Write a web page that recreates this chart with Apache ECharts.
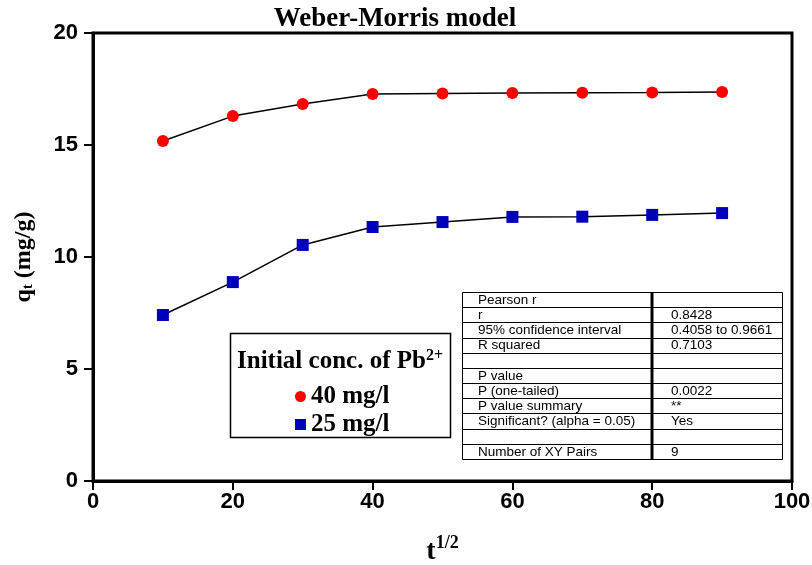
<!DOCTYPE html>
<html>
<head>
<meta charset="utf-8">
<script src="https://cdn.jsdelivr.net/npm/echarts@6/dist/echarts.min.js"></script>
<style>
  html, body { margin: 0; padding: 0; background: #fff; }
  #chart { width: 812px; height: 565px; }
</style>
</head>
<body>
<div id="chart"></div>
<script>
// sqrt(time) values on the x axis
const tHalf = [10, 20, 30, 40, 50, 60, 70, 80, 90];
// adsorbed amount q_t (mg/g) for the two initial concentrations
const q40 = [15.18, 16.29, 16.83, 17.28, 17.30, 17.32, 17.33, 17.34, 17.37];
const q25 = [7.41, 8.88, 10.54, 11.34, 11.56, 11.79, 11.80, 11.88, 11.96];
const seriesNames = ['40 mg/l', '25 mg/l'];
const xTicks = [0, 20, 40, 60, 80, 100];
const yTicks = [0, 5, 10, 15, 20];

// correlation summary table
const statLabels = ['Pearson r', 'r', '95% confidence interval', 'R squared', '',
  'P value', 'P (one-tailed)', 'P value summary', 'Significant? (alpha = 0.05)', '', 'Number of XY Pairs'];
const statValues = ['', '0.8428', '0.4058 to 0.9661', '0.7103', '',
  '', '0.0022', '**', 'Yes', '', '9'];

const chart = echarts.init(document.getElementById('chart'));

const serif = '"Liberation Serif", "Times New Roman", serif';
const sans = '"Liberation Sans", Arial, sans-serif';

// table geometry
const tbl = { x: 462, y: 292, w: 320, h: 167, split: 652 };
const rowH = tbl.h / statLabels.length;
const tableEls = [];
tableEls.push({
  type: 'rect', shape: { x: tbl.x + 0.5, y: tbl.y + 0.5, width: tbl.w, height: tbl.h },
  style: { fill: '#fff', stroke: '#000', lineWidth: 1 }, z: 10
});
for (let i = 1; i < statLabels.length; i++) {
  const yy = Math.round(tbl.y + i * rowH) + 0.5;
  tableEls.push({
    type: 'line', shape: { x1: tbl.x, y1: yy, x2: tbl.x + tbl.w, y2: yy },
    style: { stroke: '#000', lineWidth: 1 }, z: 11
  });
}
tableEls.push({
  type: 'line', shape: { x1: tbl.split, y1: tbl.y, x2: tbl.split, y2: tbl.y + tbl.h },
  style: { stroke: '#000', lineWidth: 3 }, z: 11
});
statLabels.forEach((s, i) => {
  const cy = tbl.y + (i + 0.5) * rowH + 0.5;
  if (s) tableEls.push({
    type: 'text', x: tbl.x + 16, y: cy, z: 12,
    style: { text: s, font: '13.5px ' + sans, fill: '#000', textVerticalAlign: 'middle' }
  });
  if (statValues[i]) tableEls.push({
    type: 'text', x: tbl.split + 19, y: cy, z: 12,
    style: { text: statValues[i], font: '13.5px ' + sans, fill: '#000', textVerticalAlign: 'middle' }
  });
});

chart.setOption({
  animation: false,
  backgroundColor: '#fff',
  title: {
    text: 'Weber-Morris model',
    left: 395, top: 6, padding: 0, textAlign: 'center',
    textStyle: { fontFamily: serif, fontWeight: 'bold', fontSize: 27, color: '#000' }
  },
  grid: {
    left: 93, right: 20, top: 33, bottom: 84,
    outerBoundsMode: 'none', containLabel: false,
    show: true, borderColor: '#000', borderWidth: 3
  },
  xAxis: {
    type: 'value', min: 0, max: 100, interval: 20,
    name: '{b|t}{s|1/2}', nameLocation: 'middle', nameGap: 53,
    nameTextStyle: {
      rich: {
        b: { fontFamily: serif, fontWeight: 'bold', fontSize: 28, color: '#000', verticalAlign: 'bottom' },
        s: { fontFamily: serif, fontWeight: 'bold', fontSize: 18, color: '#000', verticalAlign: 'top', padding: [0, 0, 14, 0] }
      }
    },
    axisLine: { lineStyle: { color: '#000', width: 3 } },
    axisTick: { show: true, length: 9, lineStyle: { color: '#000', width: 2 } },
    splitLine: { show: false },
    axisLabel: {
      color: '#000', fontFamily: sans, fontWeight: 'bold', fontSize: 22, margin: 10,
      formatter: v => xTicks.includes(v) ? String(v) : ''
    }
  },
  yAxis: {
    type: 'value', min: 0, max: 20, interval: 5,
    name: '{b|q}{s|t}{b| (mg/g)}', nameLocation: 'middle', nameGap: 57, nameRotate: 90,
    nameTextStyle: {
      rich: {
        b: { fontFamily: serif, fontWeight: 'bold', fontSize: 24, color: '#000' },
        s: { fontFamily: serif, fontWeight: 'bold', fontSize: 15, color: '#000', padding: [10, 0, 0, 0] }
      }
    },
    axisLine: { lineStyle: { color: '#000', width: 3 } },
    axisTick: { show: true, length: 9, lineStyle: { color: '#000', width: 2 } },
    splitLine: { show: false },
    axisLabel: {
      color: '#000', fontFamily: sans, fontWeight: 'bold', fontSize: 22, margin: 15,
      formatter: v => yTicks.includes(v) ? String(v) : ''
    }
  },
  legend: {
    orient: 'vertical', left: 290, top: 379, itemGap: 3, padding: 5,
    itemWidth: 11, itemHeight: 11, itemTextGap: 9,
    data: [
      { name: seriesNames[0], icon: 'circle' },
      { name: seriesNames[1], icon: 'rect' }
    ],
    textStyle: { fontFamily: serif, fontWeight: 'bold', fontSize: 25, color: '#000' },
    z: 20
  },
  series: [
    {
      name: seriesNames[0], type: 'line',
      data: tHalf.map((x, i) => [x, q40[i]]),
      symbol: 'circle', symbolSize: 12,
      itemStyle: { color: '#ff0000' },
      lineStyle: { color: '#000', width: 1.5 }
    },
    {
      name: seriesNames[1], type: 'line',
      data: tHalf.map((x, i) => [x, q25[i]]),
      symbol: 'rect', symbolSize: 12,
      itemStyle: { color: '#0000bb' },
      lineStyle: { color: '#000', width: 1.5 }
    }
  ],
  graphic: [
    {
      type: 'rect', shape: { x: 230.5, y: 333.5, width: 220, height: 104 },
      style: { fill: '#fff', stroke: '#000', lineWidth: 1.5 }, z: 5
    },
    {
      type: 'text', x: 340, y: 362, z: 6,
      style: {
        text: '{b|Initial conc. of Pb}{s|2+}',
        textAlign: 'center', textVerticalAlign: 'middle',
        rich: {
          b: { fontFamily: serif, fontWeight: 'bold', fontSize: 25, fill: '#000' },
          s: { fontFamily: serif, fontWeight: 'bold', fontSize: 16, fill: '#000', padding: [0, 0, 13, 0] }
        }
      }
    }
  ].concat(tableEls)
});
</script>
</body>
</html>
